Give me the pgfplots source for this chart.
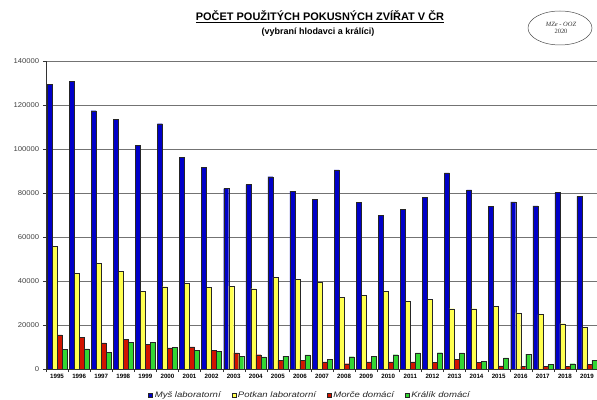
\documentclass[border=0pt]{standalone}
\usepackage{pgfplots}
\pgfplotsset{compat=1.18}
\usepackage{pgfplotstable}
\usepackage{graphicx}
\usepackage{fontspec}
\setmainfont{Liberation Sans}
\newfontfamily\serifit{Liberation Serif}
\definecolor{cblue}{RGB}{0,0,200}
\definecolor{cyellow}{RGB}{255,255,80}
\definecolor{cred}{RGB}{210,20,0}
\definecolor{cgreen}{RGB}{50,215,50}
\pgfplotstableread{
idx year mouse rat guinea rabbit
0 1995 129300 55800 15500 8800
1 1996 130900 43600 14500 9200
2 1997 117400 48000 11900 7600
3 1998 113600 44500 13400 12200
4 1999 101700 35200 11200 12100
5 2000 111500 37400 9600 9800
6 2001 96300 39000 10000 8600
7 2002 91700 37000 8500 8000
8 2003 82000 37700 7300 5800
9 2004 83800 36500 6500 5500
10 2005 87400 41800 3900 5800
11 2006 80800 40800 3900 6400
12 2007 77100 39500 3200 4500
13 2008 90500 32700 2400 5600
14 2009 75800 33500 3200 5800
15 2010 69800 35200 3200 6500
16 2011 72600 30900 3200 7300
17 2012 77900 31700 2900 7400
18 2013 89200 27400 4400 7300
19 2014 81400 27400 2900 3600
20 2015 73800 28600 1400 5000
21 2016 76000 25500 1200 6800
22 2017 74100 24800 1100 2000
23 2018 80200 20600 1100 2400
24 2019 78500 18900 2000 4000
}\datatable
\newcommand{\lt}[1]{\scalebox{1.2}[1]{#1}}
\begin{document}
\begin{tikzpicture}
\useasboundingbox (0,0) rectangle (597bp,400bp);
\node[font=\bfseries\fontsize{11}{12}\selectfont] at (320bp,383bp) {\underline{POČET POUŽITÝCH POKUSNÝCH ZVÍŘAT V ČR}};
\node[font=\bfseries\fontsize{9}{10}\selectfont] at (318bp,368bp) {(vybraní hlodavci a králíci)};
\draw[black!70, line width=0.5bp] (560bp,372bp) ellipse (32bp and 17bp);
\node[font=\serifit\itshape\fontsize{6.5}{7.5}\selectfont, align=center, text=black!80] at (561bp,372bp) {MZe - OOZ\\\upshape 2020};
\begin{axis}[
  at={(46bp,31bp)}, anchor=south west,
  scale only axis, width=552bp, height=308bp,
  ybar=0pt, bar width=5bp,
  xmin=-0.5, xmax=24.5,
  ymin=0, ymax=140000,
  ytick={0,20000,40000,60000,80000,100000,120000,140000},
  yticklabels={0,20000,40000,60000,80000,100000,120000,140000},
  scaled y ticks=false,
  yticklabel style={font=\fontsize{7}{8}\selectfont, text=black!75, xscale=1.1},
  xtick={0,...,24},
  xticklabels={1995,1996,1997,1998,1999,2000,2001,2002,2003,2004,2005,2006,2007,2008,2009,2010,2011,2012,2013,2014,2015,2016,2017,2018,2019},
  xticklabel style={font=\bfseries\fontsize{6.2}{7}\selectfont, yshift=1bp},
  major x tick style={draw=none},
  minor xtick={-0.5,0.5,...,24.5},
  minor x tick style={black!80},
  tick align=outside,
  major tick length=3bp, minor tick length=3bp,
  ytick style={black!80},
  axis x line*=bottom, axis y line*=left,
  axis line style={black!80, line width=0.6bp, -},
  ymajorgrids, grid style={black!55, line width=0.6bp},
  every axis plot/.append style={draw=black!85, line width=0.3bp},
  legend style={at={(0.4785,-0.084)}, anchor=center, draw=none, fill=none,
    legend columns=4, font=\itshape\fontsize{8}{9}\selectfont, text=black!85,
    /tikz/every even column/.append style={column sep=9bp},
    /tikz/every odd column/.append style={column sep=0bp}},
  legend image code/.code={\draw[#1, line width=0.3bp] (0bp,-2bp) rectangle (4bp,2bp);},
]
\addplot[fill=cblue] table[x=idx, y=mouse] {\datatable};
\addplot[fill=cyellow] table[x=idx, y=rat] {\datatable};
\addplot[fill=cred] table[x=idx, y=guinea] {\datatable};
\addplot[fill=cgreen] table[x=idx, y=rabbit] {\datatable};
\legend{\lt{Myš laboratorní}, \lt{Potkan laboratorní}, \lt{Morče domácí}, \lt{Králík domácí}}
\end{axis}
\end{tikzpicture}
\end{document}
